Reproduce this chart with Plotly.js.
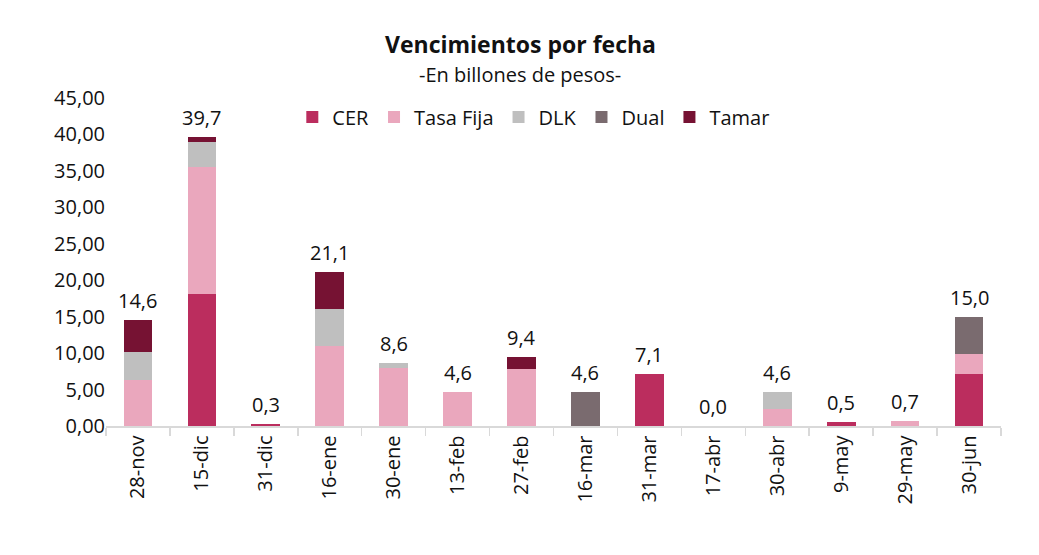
<!DOCTYPE html>
<html>
<head>
<meta charset="utf-8">
<script src="https://cdn.plot.ly/plotly-3.0.1.min.js"></script>
<style>html,body{margin:0;padding:0;background:#fff;}#chart{width:1039px;height:555px;}</style>
</head>
<body>
<div id="chart"></div>
<script>
const categories = ["28-nov","15-dic","31-dic","16-ene","30-ene","13-feb","27-feb","16-mar","31-mar","17-abr","30-abr","9-may","29-may","30-jun"];
const cer      = [0,   18.1, 0.3, 0,    0,   0,   0,   0,   7.1, 0, 0,   0.5, 0,   7.2];
const tasaFija = [6.35,17.4, 0,   11.0, 8.0, 4.6, 7.8, 0,   0,   0, 2.3, 0,   0.7, 2.7];
const dlk      = [3.8, 3.5,  0,   5.05, 0.6, 0,   0,   0,   0,   0, 2.3, 0,   0,   0];
const dual     = [0,   0,    0,   0,    0,   0,   0,   4.6, 0,   0, 0,   0,   0,   5.1];
const tamar    = [4.45,0.7,  0,   5.05, 0,   0,   1.6, 0,   0,   0, 0,   0,   0,   0];

const totals = categories.map((c,i)=> cer[i]+tasaFija[i]+dlk[i]+dual[i]+tamar[i]);

const FONT = "Open Sans, Lato, sans-serif";
const colors = {CER:"#BB2D5E", TF:"#EAA7BD", DLK:"#BFBFBF", Dual:"#7A6B6F", Tamar:"#761233"};

function bar(name, y, color){
  return {type:"bar", name:name, x:categories, y:y, marker:{color:color}, width:0.45, hoverinfo:"skip"};
}
const data = [
  bar("CER", cer, colors.CER),
  bar("Tasa Fija", tasaFija, colors.TF),
  bar("DLK", dlk, colors.DLK),
  bar("Dual", dual, colors.Dual),
  bar("Tamar", tamar, colors.Tamar)
];

const annotations = categories.map((c,i)=>({
  x:c, y:totals[i], xref:"x", yref:"y", text:totals[i].toFixed(1).replace(".",","),
  showarrow:false, yanchor:"bottom", yshift:4, font:{size:20, family:FONT, color:"#111"}
}));
annotations.push({xref:"paper", yref:"paper", x:0.463, y:1.165, xanchor:"center", yanchor:"middle",
  text:"<b>Vencimientos por fecha</b>", showarrow:false, font:{size:23, family:FONT, color:"#111"}});
annotations.push({xref:"paper", yref:"paper", x:0.463, y:1.072, xanchor:"center", yanchor:"middle",
  text:"-En billones de pesos-", showarrow:false, font:{size:20, family:FONT, color:"#111"}});

const layout = {
  width:1039, height:555,
  barmode:"stack",
  separators:",.",
  margin:{l:106, r:38, t:98, b:129},
  paper_bgcolor:"#fff", plot_bgcolor:"#fff",
  font:{family:FONT, size:20, color:"#111"},
  annotations:annotations,
  xaxis:{type:"category", tickangle:-90, showline:true, linecolor:"#D9D9D9", linewidth:1.5,
         ticks:"outside", tickson:"boundaries", ticklen:8, tickcolor:"#D9D9D9", tickwidth:1.5,
         showgrid:false, tickfont:{size:20, family:FONT, color:"#111"}},
  yaxis:{range:[0,45], dtick:5, tickformat:".2f", showgrid:false, zeroline:false, showline:false,
         ticks:"", tickfont:{size:20, family:FONT, color:"#111"}},
  legend:{orientation:"h", x:0.478, xanchor:"center", y:0.942, yanchor:"middle", itemwidth:30,
          font:{size:20, family:FONT, color:"#111"}, bgcolor:"rgba(0,0,0,0)", traceorder:"normal"},
  showlegend:true
};
Plotly.newPlot("chart", data, layout, {displayModeBar:false, staticPlot:true});
</script>
</body>
</html>
